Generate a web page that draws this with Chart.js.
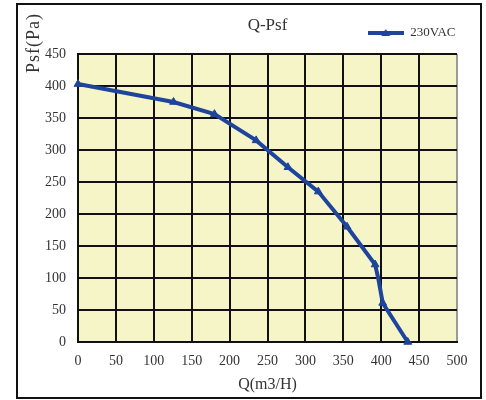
<!DOCTYPE html>
<html>
<head>
<meta charset="utf-8">
<script src="https://cdn.jsdelivr.net/npm/chart.js@4"></script>
<style>
  html, body { margin: 0; padding: 0; background: #fff; }
  #wrap { position: relative; width: 486px; height: 400px; }
  #frame { position: absolute; left: 16px; top: 3px; width: 462px; height: 392px; border: 2px solid #111; pointer-events: none; }
  canvas { position: absolute; left: 0; top: 0; }
</style>
</head>
<body>
<div id="wrap">
  <canvas id="c" width="486" height="400"></canvas>
  <div id="frame"></div>
</div>
<script>
const flowQ = [0, 126, 180, 235, 277, 317, 355, 392, 396, 402, 435];
const pressurePsf = [403, 375, 356, 315, 273, 235, 180, 121, 100, 61, 0];
const markerShown = [1, 1, 1, 1, 1, 1, 1, 1, 0, 1, 1];
const seriesName = '230VAC';
const chartTitle = 'Q-Psf';
const xTitle = 'Q(m3/H)';
const yTitle = 'Psf(Pa)';
const xTicks = [0, 50, 100, 150, 200, 250, 300, 350, 400, 450, 500];
const yTicks = [0, 50, 100, 150, 200, 250, 300, 350, 400, 450];

const BLUE = '#1e449c';
const SERIF = "'Liberation Serif', 'DejaVu Serif', serif";

// legend symbol: line with triangle
const sym = document.createElement('canvas');
sym.width = 36; sym.height = 10;
(function () {
  const g = sym.getContext('2d');
  g.strokeStyle = BLUE; g.lineWidth = 4;
  g.beginPath(); g.moveTo(0, 5); g.lineTo(36, 5); g.stroke();
  g.fillStyle = BLUE;
  g.beginPath(); g.moveTo(18, 1); g.lineTo(22.5, 8); g.lineTo(13.5, 8); g.closePath(); g.fill();
})();

const plotBg = {
  id: 'plotBg',
  beforeDraw(chart) {
    const {ctx, chartArea: a} = chart;
    ctx.save();
    ctx.fillStyle = '#f5f5c8';
    ctx.fillRect(a.left, a.top, a.right - a.left, a.bottom - a.top);
    ctx.restore();
  },
  afterDraw(chart) {
    const {ctx, chartArea: a} = chart;
    const t = chart.options.scales.y.title;
    ctx.save();
    ctx.fillStyle = '#333';
    ctx.font = '18px ' + SERIF;
    if ('letterSpacing' in ctx) ctx.letterSpacing = '1px';
    ctx.textAlign = 'center';
    ctx.textBaseline = 'middle';
    ctx.translate(a.left - 44, a.top - 11);
    ctx.rotate(-Math.PI / 2);
    ctx.fillText(t.text, 0, 0);
    ctx.restore();
  }
};

new Chart(document.getElementById('c'), {
  type: 'line',
  data: {
    datasets: [{
      label: seriesName,
      data: flowQ.map((q, i) => ({x: q, y: pressurePsf[i]})),
      borderColor: BLUE,
      backgroundColor: BLUE,
      borderWidth: 4,
      tension: 0,
      pointStyle: 'triangle',
      pointRadius: markerShown.map(m => m ? 4.5 : 0),
      pointBackgroundColor: BLUE,
      pointBorderColor: BLUE,
      pointBorderWidth: 1,
      clip: false
    }]
  },
  options: {
    responsive: false,
    animation: false,
    devicePixelRatio: 1,
    layout: { padding: { left: 0, right: 29, top: 25, bottom: 0 } },
    plugins: {
      title: {
        display: true,
        text: chartTitle,
        fullSize: false,
        weight: 500,
        color: '#333',
        font: { family: SERIF, size: 17, weight: 'normal' },
        padding: { top: -33.7, bottom: 17.8 }
      },
      legend: {
        display: true,
        position: 'top',
        align: 'end',
        fullSize: false,
        labels: {
          color: '#333',
          font: { family: SERIF, size: 13 },
          padding: 1.5,
          usePointStyle: true,
          pointStyleWidth: 36,
          generateLabels: (chart) => [{
            text: seriesName,
            pointStyle: sym,
            fillStyle: BLUE,
            strokeStyle: BLUE,
            lineWidth: 0,
            datasetIndex: 0,
            fontColor: '#333'
          }]
        }
      },
      tooltip: { enabled: false }
    },
    scales: {
      x: {
        type: 'linear',
        min: 0, max: 500,
        afterFit: (s) => { s.height = 58; },
        afterBuildTicks: (s) => { s.ticks = xTicks.map(v => ({value: v})); },
        ticks: {
          color: '#333',
          font: { family: SERIF, size: 14 },
          padding: 11,
          maxRotation: 0
        },
        grid: {
          color: (c) => c.index === xTicks.length - 1 ? '#9a9a9a' : '#111',
          lineWidth: 2,
          drawTicks: false
        },
        border: { color: '#111', width: 2 },
        title: {
          display: true,
          text: xTitle,
          color: '#333',
          font: { family: SERIF, size: 16 },
          padding: { top: 4, bottom: 6 }
        }
      },
      y: {
        type: 'linear',
        min: 0, max: 450,
        afterFit: (s) => { s.width = 78; },
        afterBuildTicks: (s) => { s.ticks = yTicks.map(v => ({value: v})); },
        ticks: {
          color: '#333',
          font: { family: SERIF, size: 14 },
          padding: 12
        },
        grid: {
          color: '#111',
          lineWidth: 2,
          drawTicks: false
        },
        border: { color: '#111', width: 2 },
        title: { display: false, text: yTitle }
      }
    }
  },
  plugins: [plotBg]
});
</script>
</body>
</html>
